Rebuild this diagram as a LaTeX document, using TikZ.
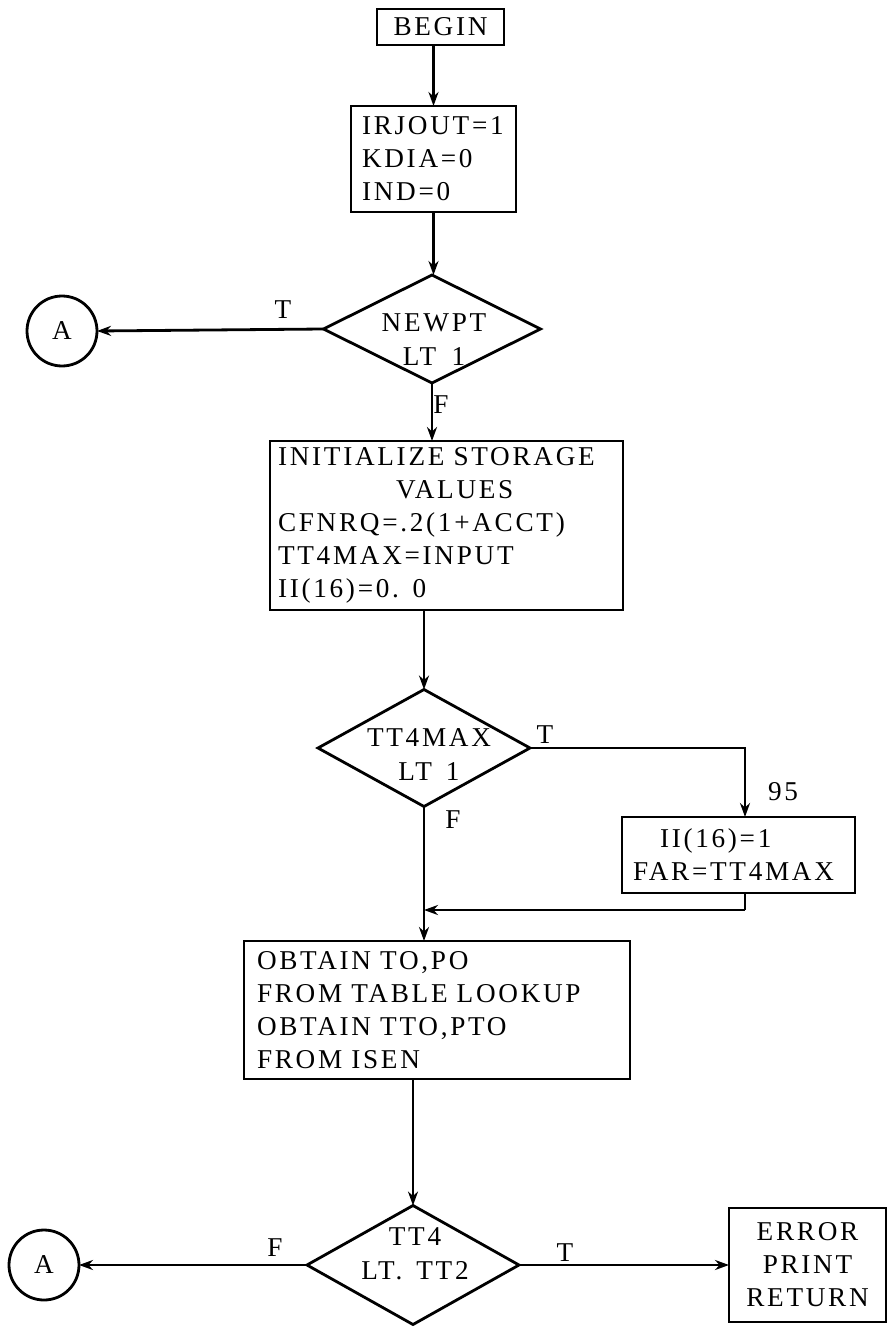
\documentclass[tikz,border=0pt]{standalone}
\usepackage{fontspec}
\setmainfont{Liberation Serif}[LetterSpace=10,WordSpace=1.6]
\usetikzlibrary{shapes.geometric,arrows.meta}
\begin{document}
\begin{tikzpicture}[x=0.5pt,y=-0.5pt,
  every node/.style={font=\fontsize{13.6}{16.5}\selectfont},
  proc/.style={draw,line width=1.4pt,inner ysep=0pt,outer sep=0pt},
  dec/.style={draw,diamond,line width=1.4pt,inner sep=0pt,outer sep=0pt},
  conn/.style={draw,circle,line width=1.4pt,inner sep=0pt,outer sep=0pt,minimum size=35pt},
  txt/.style={inner sep=0pt,align=center,font=\fontsize{13.6}{17}\selectfont},
  lbl/.style={inner sep=0pt},
  flow/.style={line width=1.4pt,-{Stealth[length=7pt,width=5pt]}},
  plain/.style={line width=1.4pt}]
\useasboundingbox (0,0) rectangle (890,1332);

% nodes
\node[proc,minimum width=63.5pt,minimum height=18pt,inner xsep=0pt] (begin) at (440.5,27) {BEGIN};
\node[proc,minimum height=53pt,inner xsep=5.5pt,text width=71.5pt,align=left] (box2) at (433.5,159)
  {IRJOUT=1\\KDIA=0\\IND=0};
\node[dec,minimum width=108.5pt,minimum height=54pt] (newpt) at (432,329) {};
\node[txt] (newpttxt) at (434,340) {NEWPT\\LT 1};
\node[conn] (a1) at (62,331) {A};
\node[proc,minimum height=84.5pt,inner xsep=4pt,text width=168.5pt,align=left] (box3) at (446.5,525.5)
  {INITIALIZE STORAGE\\\hspace*{59pt}VALUES\\CFNRQ=.2(1+ACCT)\\TT4MAX=INPUT\\II(16)=0. 0};
\node[dec,minimum width=106pt,minimum height=58.5pt] (tt4max) at (424,748) {};
\node[txt] (tt4maxtxt) at (429,754.5) {TT4MAX\\LT\hspace{7pt}1};
\node[proc,minimum height=38pt,inner xsep=5.5pt,text width=105.5pt,align=left] (box4) at (738.5,855)
  {\hspace*{13.5pt}II(16)=1\\FAR=TT4MAX};
\node[proc,minimum height=69pt,inner xsep=6.5pt,text width=180pt,align=left] (box5) at (437,1010)
  {OBTAIN TO,PO\\FROM TABLE LOOKUP\\OBTAIN TTO,PTO\\FROM ISEN};
\node[dec,minimum width=106pt,minimum height=59.5pt] (dec3) at (413,1265) {};
\node[txt] (dec3txt) at (415,1253.5) {TT4\\LT.\hspace{7pt}TT2};
\node[conn] (a2) at (44,1265) {A};
\node[proc,minimum width=78.5pt,minimum height=57pt,inner xsep=0pt,align=center] (err) at (807.5,1265)
  {ERROR\\PRINT\\RETURN};

% labels
\node[lbl] (t1) at (283,310) {T};
\node[lbl] (f1) at (441,405) {F};
\node[lbl] (t2) at (545,735) {T};
\node[lbl] (f2) at (453,820) {F};
\node[lbl] (n95) at (783,792) {95};
\node[lbl] (f3) at (275,1248) {F};
\node[lbl] (t3) at (565,1253) {T};

% connectors
\coordinate (c1) at (745,748);
\coordinate (c2) at (745,910);
\draw[flow] (begin.south -| box2.north) -- (box2.north);
\draw[flow] (box2.south) -- (box2.south |- newpt.north);
\draw[flow] (newpt.west) -- (a1.east);
\draw[flow] (newpt.south) -- (newpt.south |- box3.north);
\draw[flow] (box3.south -| tt4max.north) -- (tt4max.north);
\draw[flow] (tt4max.east) -- (c1) -- (c1 |- box4.north);
\draw[plain] (c1 |- box4.south) -- (c2);
\draw[flow] (c2) -- (tt4max.south |- c2);
\draw[flow] (tt4max.south) -- (tt4max.south |- box5.north);
\draw[flow] (box5.south -| dec3.north) -- (dec3.north);
\draw[flow] (dec3.west) -- (a2.east);
\draw[flow] (dec3.east) -- (err.west);
\end{tikzpicture}
\end{document}
